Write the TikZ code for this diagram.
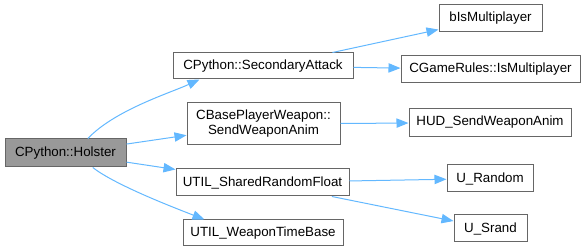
\documentclass[tikz,border=0pt]{standalone}
\usepackage{fontspec}
\setmainfont{Liberation Sans}
\usetikzlibrary{arrows.meta}
\definecolor{edgeblue}{HTML}{63B8FF}
\definecolor{boxline}{HTML}{666666}
\definecolor{curfill}{HTML}{999999}
\begin{document}
\begin{tikzpicture}[x=0.75pt,y=-0.75pt,
  fn/.style={draw=boxline, line width=0.75pt, fill=white, inner sep=0pt,
    align=center, font=\fontsize{10}{11.25}\selectfont},
  cur/.style={fn, fill=curfill},
  call/.style={draw=edgeblue, line width=0.75pt,
    -{Triangle[length=9pt,width=7pt]}}]
\useasboundingbox (0,0) rectangle (586,252);

% functions
\node[cur, minimum width=90.75pt, minimum height=21pt] (h) at (65.5,153) {CPython::Holster};
\node[fn, minimum width=135pt, minimum height=19.5pt] (sa) at (263,66) {CPython::SecondaryAttack};
\node[fn, minimum width=114.75pt, minimum height=31.5pt] (cb) at (263.5,124) {CBasePlayerWeapon::\\SendWeaponAnim};
\node[fn, minimum width=129.75pt, minimum height=20.25pt] (srf) at (262.5,182.5) {UTIL\_SharedRandomFloat};
\node[fn, minimum width=120pt, minimum height=19.5pt] (wtb) at (263,233) {UTIL\_WeaponTimeBase};
\node[fn, minimum width=77.25pt, minimum height=20.25pt] (bis) at (490.5,18.5) {bIsMultiplayer};
\node[fn, minimum width=134.25pt, minimum height=20.25pt] (cgr) at (490.5,69.5) {CGameRules::IsMultiplayer};
\node[fn, minimum width=121.5pt, minimum height=21pt] (hud) at (490,122.5) {HUD\_SendWeaponAnim};
\node[fn, minimum width=64.5pt, minimum height=20.25pt] (ur) at (490,178.5) {U\_Random};
\node[fn, minimum width=54.75pt, minimum height=20.25pt] (us) at (490.5,228.5) {U\_Srand};

% calls
\draw[call] (h.33) .. controls (115,110) and (170,93) .. (sa.192);
\draw[call] (h) -- (cb);
\draw[call] (h) -- (srf);
\draw[call] (h.-28) .. controls (115,185) and (175,208) .. (wtb.167);
\draw[call] (sa.11) -- (bis.192);
\draw[call] (sa) -- (cgr);
\draw[call] (cb) -- (hud);
\draw[call] (srf) -- (ur);
\draw[call] (srf) -- (us);
\end{tikzpicture}
\end{document}
